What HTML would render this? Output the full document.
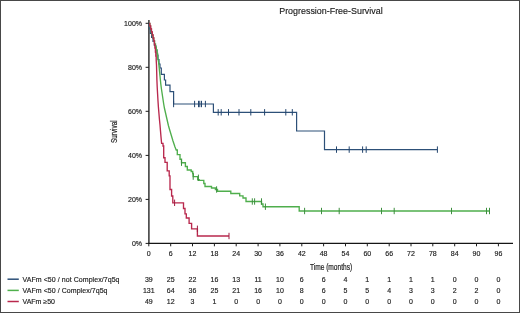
<!DOCTYPE html>
<html><head><meta charset="utf-8"><title>Progression-Free-Survival</title>
<style>
html,body{margin:0;padding:0;background:#fff;}
body{width:520px;height:313px;overflow:hidden;position:relative;font-family:"Liberation Sans",sans-serif;}
#frame{position:absolute;left:0;top:0;width:520px;height:313px;box-sizing:border-box;border:1px solid #484848;border-bottom-width:1.5px;border-right-width:1.5px;}
svg{position:absolute;left:0;top:0;will-change:transform;opacity:0.999;}
.t{font-family:"Liberation Sans",sans-serif;font-size:7px;fill:#1c1c1c;stroke:#1c1c1c;stroke-width:0.16px;}
.b{fill:#222;stroke:#222;stroke-width:0.2px;}
</style></head><body>
<div id="frame"></div>
<svg width="520" height="313" viewBox="0 0 520 313">
<path d="M148.9,20 V244.0" fill="none" stroke="#333" stroke-width="1.5"/>
<path d="M148.2,243.4 H513" fill="none" stroke="#151515" stroke-width="1.2"/>
<path d="M145.6,243.4H148.9 M145.6,199.4H148.9 M145.6,155.4H148.9 M145.6,111.3H148.9 M145.6,67.3H148.9 M145.6,23.3H148.9 M148.8,243.4V246.3 M170.7,243.4V246.3 M192.5,243.4V246.3 M214.4,243.4V246.3 M236.2,243.4V246.3 M258.1,243.4V246.3 M279.9,243.4V246.3 M301.8,243.4V246.3 M323.6,243.4V246.3 M345.5,243.4V246.3 M367.3,243.4V246.3 M389.2,243.4V246.3 M411.0,243.4V246.3 M432.8,243.4V246.3 M454.7,243.4V246.3 M476.5,243.4V246.3 M498.4,243.4V246.3" fill="none" stroke="#1c1c1c" stroke-width="1"/>
<path d="M149.2,23.3 V29 H150.3 V33.5 H151.6 V37.5 H153 V41.5 H154.4 V45.5 H155.8 V50 H157 V55 H158 V59.5 H159 V64 H160 V68 H161.3 V74.3 H164.4 V80 H165.6 V85.2 H170 V91.6 H173.6 V104 H213.4 V112.3 H296.6 V131 H324.5 V149.6 H437.4" fill="none" stroke="#2d5078" stroke-width="1.2"/>
<path d="M173.6,100.8V107.2 M194.6,100.8V107.2 M198.5,100.8V107.2 M199.8,100.8V107.2 M201.5,100.8V107.2 M205.4,100.8V107.2 M218.2,109.1V115.5 M221.2,109.1V115.5 M228.5,109.1V115.5 M239.0,109.1V115.5 M250.8,109.1V115.5 M264.6,109.1V115.5 M285.8,109.1V115.5 M292.3,109.1V115.5 M336.5,146.4V152.8 M349.2,146.4V152.8 M362.6,146.4V152.8 M366.2,146.4V152.8 M437.4,146.4V152.8" fill="none" stroke="#24466e" stroke-width="1"/>
<path d="M149.2,23.3 H149.8 V26.0 H150.5 V29.0 H151.3 V32.0 H152.1 V35.0 H152.9 V38.0 H153.7 V41.0 H154.6 V44.0 H155.5 V47.0 H156.3 V50.0 H157.0 V53.5 H157.6 V57.0 L158.3,60.5 L158.8,64.0 L159.2,68.0 L159.6,72.0 L160.0,76.0 L160.4,80.0 L160.8,84.0 L161.3,88.0 L161.9,92.0 L162.5,96.0 L163.1,100.0 L163.7,104.0 L164.4,108.0 L165.2,111.5 L166.0,115.0 L166.8,118.5 L167.6,122.0 L168.4,125.5 L169.4,129.0 L170.3,132.0 L171.2,135.0 L172.1,138.0 L173.0,141.0 L174.0,144.0 L175.0,147.0 L176.2,150.0 H177.3 V154.6 H180.0 V159.2 H181.5 V162.7 H185.4 V166.5 H187.3 V170.0 H191.2 V171.5 H192.7 V173.5 H193.2 V176.6 H197.7 V179.7 H199.2 V180.4 H203.8 V183.5 H205.0 V186.5 H211.5 V188.0 H215.4 V189.5 H217.5 V191.2 H230.8 V193.5 H239.7 V195.8 H243.0 V198.0 H246.0 V201.5 H261.5 V204.0 H263.0 V206.7 H299.2 V211.0 H489.5 V211.0" fill="none" stroke="#4fae4c" stroke-width="1.35"/>
<path d="M181.5,159.5V165.9 M193.2,173.4V179.8 M198.4,174.6V181.0 M216.6,186.3V192.7 M252.3,198.3V204.7 M254.6,198.3V204.7 M261.5,198.3V204.7 M265.4,203.5V209.9 M304.6,207.8V214.2 M321.5,207.8V214.2 M339.2,207.8V214.2 M381.5,207.8V214.2 M394.2,207.8V214.2 M451.5,207.8V214.2 M486.5,207.8V214.2 M489.5,207.8V214.2" fill="none" stroke="#3d8f3f" stroke-width="1"/>
<path d="M149.2,23.3 H149.9 V26.0 H150.7 V29.0 H151.5 V32.0 H152.3 V35.0 H153.1 V38.0 H153.8 V41.0 H154.4 V44.5 H154.9 V48.0 H155.4 V52.0 H155.8 V56.0 H156.2 V60.0 L156.5,65.0 L156.7,72.0 L156.9,80.0 L157.2,87.0 L157.6,94.0 L158.0,101.0 L158.4,107.0 L158.9,113.0 L159.4,119.0 L160.0,125.0 L160.5,131.0 L161.0,137.0 L161.6,143.4 H163.0 V146.0 H163.7 V157.7 H165.0 V162.3 H167.2 V170.8 H169.2 V175.8 H170.0 V189.5 H171.6 V196.0 H172.8 V202.8 H183.5 V208.5 H185.0 V213.8 H186.3 V218.0 H189.1 V223.3 H191.6 V228.8 H197.4 V236.0 H229.0 V236.0" fill="none" stroke="#b9284d" stroke-width="1.35"/>
<path d="M174.6,199.6V206.0 M197.4,225.6V232.0 M229.0,232.8V239.2" fill="none" stroke="#a01c40" stroke-width="1"/>
<text x="142" y="245.9" text-anchor="end" class="t">0%</text>
<text x="142" y="201.9" text-anchor="end" class="t">20%</text>
<text x="142" y="157.9" text-anchor="end" class="t">40%</text>
<text x="142" y="113.8" text-anchor="end" class="t">60%</text>
<text x="142" y="69.8" text-anchor="end" class="t">80%</text>
<text x="142" y="25.8" text-anchor="end" class="t">100%</text>
<text x="148.8" y="256.3" text-anchor="middle" class="t">0</text>
<text x="170.7" y="256.3" text-anchor="middle" class="t">6</text>
<text x="192.5" y="256.3" text-anchor="middle" class="t">12</text>
<text x="214.4" y="256.3" text-anchor="middle" class="t">18</text>
<text x="236.2" y="256.3" text-anchor="middle" class="t">24</text>
<text x="258.1" y="256.3" text-anchor="middle" class="t">30</text>
<text x="279.9" y="256.3" text-anchor="middle" class="t">36</text>
<text x="301.8" y="256.3" text-anchor="middle" class="t">42</text>
<text x="323.6" y="256.3" text-anchor="middle" class="t">48</text>
<text x="345.5" y="256.3" text-anchor="middle" class="t">54</text>
<text x="367.3" y="256.3" text-anchor="middle" class="t">60</text>
<text x="389.2" y="256.3" text-anchor="middle" class="t">66</text>
<text x="411.0" y="256.3" text-anchor="middle" class="t">72</text>
<text x="432.8" y="256.3" text-anchor="middle" class="t">78</text>
<text x="454.7" y="256.3" text-anchor="middle" class="t">84</text>
<text x="476.5" y="256.3" text-anchor="middle" class="t">90</text>
<text x="498.4" y="256.3" text-anchor="middle" class="t">96</text>
<text x="309.9" y="269.6" class="t b" style="font-size:8.6px" textLength="42.3" lengthAdjust="spacingAndGlyphs">Time (months)</text>
<text transform="translate(117,143.1) rotate(-90)" class="t b" style="font-size:8.6px" textLength="22.8" lengthAdjust="spacingAndGlyphs">Survival</text>
<text x="279.2" y="14.1" class="t" style="font-size:9.3px;fill:#222" textLength="103.5" lengthAdjust="spacingAndGlyphs">Progression-Free-Survival</text>
<path d="M7.5,279.2H18.8" stroke="#2d5078" stroke-width="1.5"/>
<text x="22.5" y="281.7" class="t" textLength="97">VAFm &lt;50 / not Complex/7q5q</text>
<text x="148.8" y="281.7" text-anchor="middle" class="t">39</text>
<text x="170.7" y="281.7" text-anchor="middle" class="t">25</text>
<text x="192.5" y="281.7" text-anchor="middle" class="t">22</text>
<text x="214.4" y="281.7" text-anchor="middle" class="t">16</text>
<text x="236.2" y="281.7" text-anchor="middle" class="t">13</text>
<text x="258.1" y="281.7" text-anchor="middle" class="t">11</text>
<text x="279.9" y="281.7" text-anchor="middle" class="t">10</text>
<text x="301.8" y="281.7" text-anchor="middle" class="t">6</text>
<text x="323.6" y="281.7" text-anchor="middle" class="t">6</text>
<text x="345.5" y="281.7" text-anchor="middle" class="t">4</text>
<text x="367.3" y="281.7" text-anchor="middle" class="t">1</text>
<text x="389.2" y="281.7" text-anchor="middle" class="t">1</text>
<text x="411.0" y="281.7" text-anchor="middle" class="t">1</text>
<text x="432.8" y="281.7" text-anchor="middle" class="t">1</text>
<text x="454.7" y="281.7" text-anchor="middle" class="t">0</text>
<text x="476.5" y="281.7" text-anchor="middle" class="t">0</text>
<text x="498.4" y="281.7" text-anchor="middle" class="t">0</text>
<path d="M7.5,290.4H18.8" stroke="#4fb04c" stroke-width="1.5"/>
<text x="22.5" y="292.9" class="t" textLength="85">VAFm &lt;50 / Complex/7q5q</text>
<text x="148.8" y="292.9" text-anchor="middle" class="t">131</text>
<text x="170.7" y="292.9" text-anchor="middle" class="t">64</text>
<text x="192.5" y="292.9" text-anchor="middle" class="t">36</text>
<text x="214.4" y="292.9" text-anchor="middle" class="t">25</text>
<text x="236.2" y="292.9" text-anchor="middle" class="t">21</text>
<text x="258.1" y="292.9" text-anchor="middle" class="t">16</text>
<text x="279.9" y="292.9" text-anchor="middle" class="t">10</text>
<text x="301.8" y="292.9" text-anchor="middle" class="t">8</text>
<text x="323.6" y="292.9" text-anchor="middle" class="t">6</text>
<text x="345.5" y="292.9" text-anchor="middle" class="t">5</text>
<text x="367.3" y="292.9" text-anchor="middle" class="t">5</text>
<text x="389.2" y="292.9" text-anchor="middle" class="t">4</text>
<text x="411.0" y="292.9" text-anchor="middle" class="t">3</text>
<text x="432.8" y="292.9" text-anchor="middle" class="t">3</text>
<text x="454.7" y="292.9" text-anchor="middle" class="t">2</text>
<text x="476.5" y="292.9" text-anchor="middle" class="t">2</text>
<text x="498.4" y="292.9" text-anchor="middle" class="t">0</text>
<path d="M7.5,301.5H18.8" stroke="#b9284d" stroke-width="1.5"/>
<text x="22.5" y="304.0" class="t">VAFm ≥50</text>
<text x="148.8" y="304.0" text-anchor="middle" class="t">49</text>
<text x="170.7" y="304.0" text-anchor="middle" class="t">12</text>
<text x="192.5" y="304.0" text-anchor="middle" class="t">3</text>
<text x="214.4" y="304.0" text-anchor="middle" class="t">1</text>
<text x="236.2" y="304.0" text-anchor="middle" class="t">0</text>
<text x="258.1" y="304.0" text-anchor="middle" class="t">0</text>
<text x="279.9" y="304.0" text-anchor="middle" class="t">0</text>
<text x="301.8" y="304.0" text-anchor="middle" class="t">0</text>
<text x="323.6" y="304.0" text-anchor="middle" class="t">0</text>
<text x="345.5" y="304.0" text-anchor="middle" class="t">0</text>
<text x="367.3" y="304.0" text-anchor="middle" class="t">0</text>
<text x="389.2" y="304.0" text-anchor="middle" class="t">0</text>
<text x="411.0" y="304.0" text-anchor="middle" class="t">0</text>
<text x="432.8" y="304.0" text-anchor="middle" class="t">0</text>
<text x="454.7" y="304.0" text-anchor="middle" class="t">0</text>
<text x="476.5" y="304.0" text-anchor="middle" class="t">0</text>
<text x="498.4" y="304.0" text-anchor="middle" class="t">0</text>
</svg>
</body></html>
